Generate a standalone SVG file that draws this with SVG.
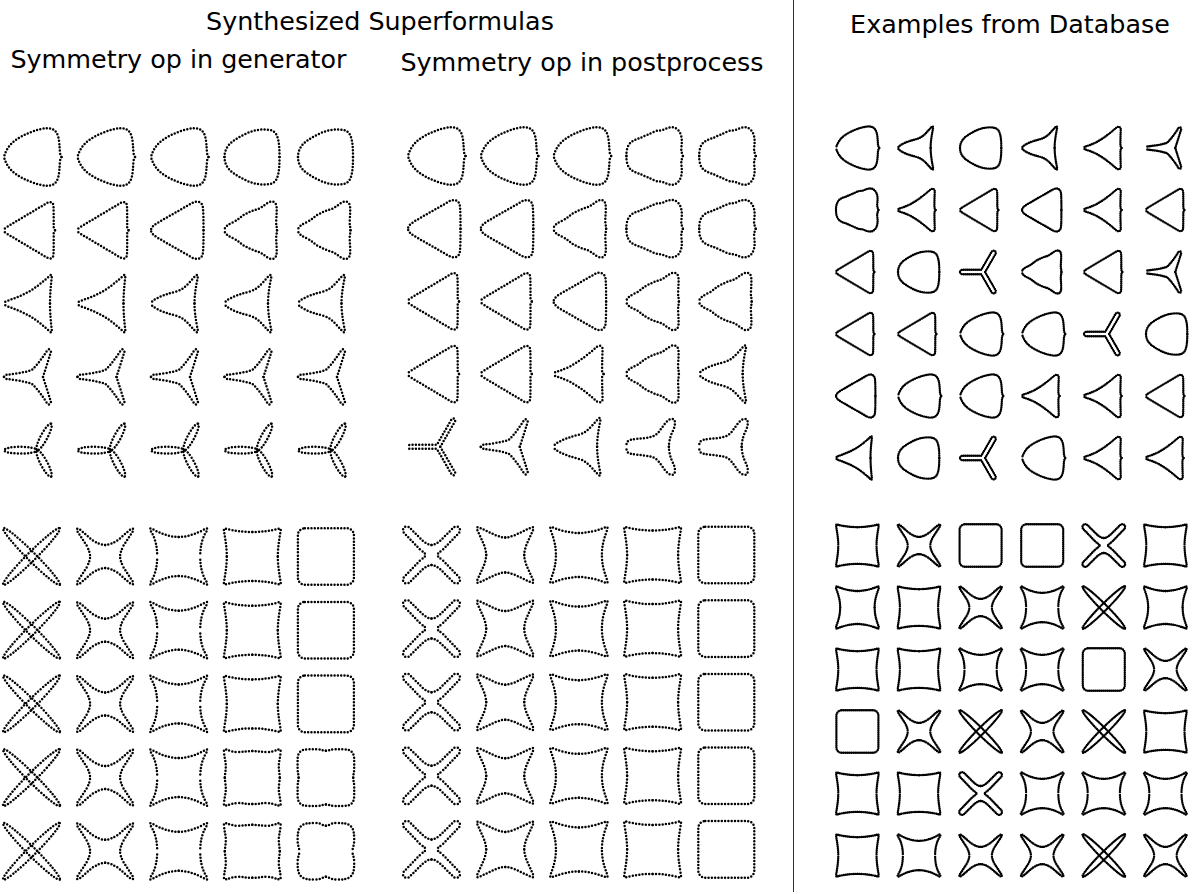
<svg xmlns="http://www.w3.org/2000/svg" width="1192" height="894" viewBox="0 0 1192 894">
<style>
text { font-family: "DejaVu Sans", "Liberation Sans", sans-serif; font-size: 25.4px; fill: #000; }
.dots { fill: none; stroke: #000; stroke-width: 2.5; stroke-dasharray: 0 3.3; stroke-linecap: round; stroke-linejoin: round; }
.dense { fill: none; stroke: #000; stroke-width: 3.2; stroke-dasharray: 0 2.6; stroke-linecap: round; stroke-linejoin: round; }
</style>
<defs>
<!-- three-fold half outlines (upper half, mirrored) -->
<path id="t0" d="M 26.5,0 C 26.5,-10 26,-18 23,-23 C 20,-27.5 14,-28 7,-27.3 C -3,-26.3 -13,-21 -21,-15 C -26,-11 -28.5,-6 -28.5,0"/>
<path id="t1" d="M 29,0 L 27.5,-3.5 C 27,-10 27,-16 25.5,-21 C 23.5,-27 19.5,-29 14.5,-28.8 C 4.5,-28 -8.5,-23 -17.5,-16.5 C -23.5,-12 -27,-6 -28.5,0"/>
<path id="t1w" d="M 28,0 C 27,-3 26,-5 26.5,-9 C 27.5,-16 27,-23 22,-27 C 18,-30 13,-28.5 9,-26.5 C 6,-25 3,-26 0,-24.5 C -6,-22 -11,-19.5 -15,-18 C -19,-16.5 -23,-15.5 -25.5,-12 C -28.5,-8 -28.5,-3 -28.5,0"/>
<path id="t2" d="M 22.5,0 L 21.2,-3 C 21.2,-10 21.2,-18 21,-24 C 20.8,-28.5 17.5,-29 14.5,-27.3 L -25.5,-3.5 C -28,-2 -28.5,-1 -28.5,0"/>
<path id="t2r" d="M 24,0 C 24,-8 24,-16 23.5,-22 C 23,-28.5 18,-30 13,-27.5 L -21,-8 C -27,-4.5 -28.5,-2 -28.5,0"/>
<path id="t2w" d="M 24,0 C 24,-3 23,-5 23.2,-9 C 23.5,-15 24,-21 23.5,-24 C 23,-28.5 19,-30 15,-27.5 C 11,-25 8,-22 4,-21 C 0,-20 -4,-18 -8,-16 C -12,-14 -14,-11 -19,-8.5 C -24,-6 -28.5,-4 -28.5,0"/>
<path id="t3" d="M 21.5,0 L 20,-3 C 20,-12 20.3,-20 20.5,-24.5 C 20.5,-28.5 17.5,-29 15,-27.5 C 6.5,-20 -3.5,-12 -13.5,-7 C -19.5,-4 -24.5,-3 -27,-1.8 C -28.5,-1 -28.5,-0.5 -28.5,0"/>
<path id="t4a" d="M 17.5,0 C 17.5,-10 18.5,-20 19.3,-26.5 C 19.6,-29 18.5,-29.3 17.3,-28 C 13,-24 6,-18 -1,-13.5 C -9,-8.5 -19,-5 -25,-2.8 C -27.5,-1.8 -28.5,-1 -28.5,0"/>
<path id="t4b" d="M 15,0 C 15,-10 17,-20 18.3,-26.5 C 18.6,-29 17.5,-29.3 16.3,-28 C 11,-23 6,-15 -2,-12.5 C -11,-10 -18,-8 -24,-4.5 C -27,-2.8 -28.5,-1.2 -28.5,0"/>
<path id="t5" d="M 10.5,0 C 13,-8 16,-17 18.3,-24.8 A 2 2 0 0 0 14.8,-26.7 C 10,-19 4,-11 -0.5,-7 C -9,-4 -19,-3 -26.5,-2 A 2 2 0 0 0 -28.5,0"/>
<path id="t5t" d="M 3.8,0 L 18.5,-25.4 A 2 2 0 0 0 15,-27.4 L 0.35,-2 L -26.5,-2 A 2 2 0 0 0 -28.5,0"/>
<path id="t5r" d="M 4.96,0 L 18.85,-24.05 A 3 3 0 0 0 13.65,-27.05 L -0.23,-3 L -25.5,-3 A 3 3 0 0 0 -28.5,0"/>
<path id="t7" d="M 14,0 C 14,-4 15,-10 18,-16 C 21,-22 21,-28.5 16.5,-28 C 12,-27.5 8,-20 4,-15 C 0,-10 -4,-10 -8,-9 C -14,-8 -20,-8 -24,-7 C -28.5,-6 -28.5,-3 -28.5,0"/>
<g id="T0"><use href="#t0"/><use href="#t0" transform="scale(1,-1)"/></g>
<g id="T1"><use href="#t1"/><use href="#t1" transform="scale(1,-1)"/></g>
<g id="T1w"><use href="#t1w"/><use href="#t1w" transform="scale(1,-1)"/></g>
<g id="T2"><use href="#t2"/><use href="#t2" transform="scale(1,-1)"/></g>
<g id="T2r"><use href="#t2r"/><use href="#t2r" transform="scale(1,-1)"/></g>
<g id="T2w"><use href="#t2w"/><use href="#t2w" transform="scale(1,-1)"/></g>
<g id="T3"><use href="#t3"/><use href="#t3" transform="scale(1,-1)"/></g>
<g id="T4a"><use href="#t4a"/><use href="#t4a" transform="scale(1,-1)"/></g>
<g id="T4b"><use href="#t4b"/><use href="#t4b" transform="scale(1,-1)"/></g>
<g id="T5"><use href="#t5"/><use href="#t5" transform="scale(1,-1)"/></g>
<g id="T5t"><use href="#t5t"/><use href="#t5t" transform="scale(1,-1)"/></g>
<g id="T5r"><use href="#t5r"/><use href="#t5r" transform="scale(1,-1)"/></g>
<g id="T7"><use href="#t7"/><use href="#t7" transform="scale(1,-1)"/></g>
<g id="T6">
<ellipse cx="-12" cy="0" rx="16.5" ry="3.4"/>
<ellipse cx="15" cy="0" rx="15" ry="3.4" transform="translate(4.5,0) rotate(-62)"/>
<ellipse cx="15" cy="0" rx="15" ry="3.4" transform="translate(4.5,0) rotate(62)"/>
</g>
<!-- four-fold quarter outlines (upper-left, mirrored) -->
<path id="s1b" d="M 0,-10 C -3,-10 -6,-12 -9,-14.5 L -22,-27.4 A 3.8 3.8 0 0 0 -27.4,-22 L -12,-6 C -8,-2.5 -5.5,-1 -5.5,0"/>
<path id="s2" d="M 0,-11.5 C -4,-11.5 -8,-13.5 -13,-16.5 L -24.5,-26.5 C -27,-28.5 -29,-28.5 -28,-25.5 L -18.5,-11 C -16,-6 -15,-3 -15,0"/>
<path id="s2m" d="M 0,-17.5 C -3,-17.5 -6,-18.5 -10,-20 L -24.5,-26.8 C -27,-28 -28.8,-28.5 -28.3,-26 L -21.5,-11 C -20,-7 -19,-3 -19,0"/>
<path id="s3" d="M 0,-19.5 C -9,-19.5 -18,-23 -24.5,-26.5 C -27,-28 -28.6,-28.8 -28.6,-27.5 C -28.6,-26.5 -27.5,-24.5 -26,-22 C -23,-16 -21.5,-9 -21.5,0"/>
<path id="s3b" d="M 0,-22 C -9,-22 -18,-24.5 -24.8,-27 C -27.3,-28 -28.6,-28.6 -28.6,-27 C -28.6,-25.5 -27.5,-23 -26.5,-20 C -24.5,-14 -23,-8 -23,0"/>
<path id="s4" d="M 0,-24.5 C -10,-24.5 -20,-26 -25.5,-27.6 C -27.6,-28.3 -28.5,-28.3 -28.4,-26.2 C -27.5,-20 -25.5,-10 -25.5,0"/>
<path id="s4w" d="M 0,-26.5 C -6,-26.5 -9,-25.5 -14,-25.5 C -20,-25.5 -24,-27.5 -26,-28 C -28,-28.5 -28.5,-28 -28.3,-26 C -28,-20 -26.5,-16 -26.5,-12 C -26.5,-6 -27.5,-3 -27.5,0"/>
<path id="s6a" d="M 0,-26.8 C -3,-26.8 -5,-28.3 -9,-28.3 L -18,-28.3 C -25,-28.3 -28.3,-25 -28.3,-18 L -28.3,-9 C -28.3,-5 -27.3,-3 -27.3,0"/>
<path id="s6b" d="M 0,-25.5 C -3,-25.5 -5,-28.3 -10,-28.3 C -17,-28.3 -22,-28 -25,-25 C -28,-22 -28.3,-17 -28.3,-11 C -28.3,-6 -26.5,-3 -26.5,0"/>
<g id="S1"><ellipse rx="40" ry="4.3" transform="rotate(45)"/><ellipse rx="40" ry="4.3" transform="rotate(-45)"/></g>
<g id="S1b"><use href="#s1b"/><use href="#s1b" transform="scale(-1,1)"/><use href="#s1b" transform="scale(1,-1)"/><use href="#s1b" transform="scale(-1,-1)"/></g>
<g id="S2"><use href="#s2"/><use href="#s2" transform="scale(-1,1)"/><use href="#s2" transform="scale(1,-1)"/><use href="#s2" transform="scale(-1,-1)"/></g>
<g id="S2m"><use href="#s2m"/><use href="#s2m" transform="scale(-1,1)"/><use href="#s2m" transform="scale(1,-1)"/><use href="#s2m" transform="scale(-1,-1)"/></g>
<g id="S3"><use href="#s3"/><use href="#s3" transform="scale(-1,1)"/><use href="#s3" transform="scale(1,-1)"/><use href="#s3" transform="scale(-1,-1)"/></g>
<g id="S3b"><use href="#s3b"/><use href="#s3b" transform="scale(-1,1)"/><use href="#s3b" transform="scale(1,-1)"/><use href="#s3b" transform="scale(-1,-1)"/></g>
<g id="S4"><use href="#s4"/><use href="#s4" transform="scale(-1,1)"/><use href="#s4" transform="scale(1,-1)"/><use href="#s4" transform="scale(-1,-1)"/></g>
<g id="S4w"><use href="#s4w"/><use href="#s4w" transform="scale(-1,1)"/><use href="#s4w" transform="scale(1,-1)"/><use href="#s4w" transform="scale(-1,-1)"/></g>
<g id="S5"><rect x="-28" y="-28.3" width="56" height="56.6" rx="7"/></g>
<g id="S6a"><use href="#s6a"/><use href="#s6a" transform="scale(-1,1)"/><use href="#s6a" transform="scale(1,-1)"/><use href="#s6a" transform="scale(-1,-1)"/></g>
<g id="S6b"><use href="#s6b"/><use href="#s6b" transform="scale(-1,1)"/><use href="#s6b" transform="scale(1,-1)"/><use href="#s6b" transform="scale(-1,-1)"/></g>
</defs>

<g id="headers">
<text x="380" y="30" text-anchor="middle">Synthesized Superformulas</text>
<text x="178.5" y="68" text-anchor="middle">Symmetry op in generator</text>
<text x="582" y="71" text-anchor="middle">Symmetry op in postprocess</text>
<text x="1010" y="33" text-anchor="middle">Examples from Database</text>
</g>
<line id="divider" x1="793.5" y1="0" x2="793.5" y2="892" stroke="#333" stroke-width="1"/>

<g id="generator-triangles" class="dots">
<use href="#T1" x="32.5" y="157"/><use href="#T1" x="106" y="157"/><use href="#T1" x="179.5" y="157"/><use href="#T0" x="253" y="157"/><use href="#T0" x="326.5" y="157"/>
<use href="#T2" x="32.5" y="230.3"/><use href="#T2" x="106" y="230.3"/><use href="#T2r" x="179.5" y="230.3"/><use href="#T2w" x="253" y="230.3"/><use href="#T2w" x="326.5" y="230.3"/>
<use href="#T4a" x="32.5" y="303.6"/><use href="#T4a" x="106" y="303.6"/><use href="#T4b" x="179.5" y="303.6"/><use href="#T4b" x="253" y="303.6"/><use href="#T4b" x="326.5" y="303.6"/>
<use href="#T5" x="32.5" y="376.9"/><use href="#T5" x="106" y="376.9"/><use href="#T5" x="179.5" y="376.9"/><use href="#T5" x="253" y="376.9"/><use href="#T5" x="326.5" y="376.9"/>
<use href="#T6" x="32.5" y="450.2"/><use href="#T6" x="106" y="450.2"/><use href="#T6" x="179.5" y="450.2"/><use href="#T6" x="253" y="450.2"/><use href="#T6" x="326.5" y="450.2"/>
</g>
<g id="generator-squares" class="dots">
<use href="#S1" x="31.5" y="556.5"/><use href="#S2" x="105.1" y="556.5"/><use href="#S3" x="178.7" y="556.5"/><use href="#S4" x="252.3" y="556.5"/><use href="#S5" x="325.9" y="556.5"/>
<use href="#S1" x="31.5" y="630.2"/><use href="#S2" x="105.1" y="630.2"/><use href="#S3" x="178.7" y="630.2"/><use href="#S4" x="252.3" y="630.2"/><use href="#S5" x="325.9" y="630.2"/>
<use href="#S1" x="31.5" y="703.9"/><use href="#S2" x="105.1" y="703.9"/><use href="#S3" x="178.7" y="703.9"/><use href="#S4" x="252.3" y="703.9"/><use href="#S5" x="325.9" y="703.9"/>
<use href="#S1" x="31.5" y="777.6"/><use href="#S2" x="105.1" y="777.6"/><use href="#S3" x="178.7" y="777.6"/><use href="#S4w" x="252.3" y="777.6"/><use href="#S6a" x="325.9" y="777.6"/>
<use href="#S1" x="31.5" y="851.3"/><use href="#S2" x="105.1" y="851.3"/><use href="#S3" x="178.7" y="851.3"/><use href="#S4w" x="252.3" y="851.3"/><use href="#S6b" x="325.9" y="851.3"/>
</g>

<g id="postprocess-triangles" class="dots">
<use href="#T1" x="436.5" y="156"/><use href="#T1" x="509.3" y="156"/><use href="#T1" x="582.1" y="156"/><use href="#T1w" x="654.9" y="156"/><use href="#T1w" x="727.7" y="156"/>
<use href="#T2r" x="436.5" y="228.7"/><use href="#T2r" x="509.3" y="228.7"/><use href="#T2w" x="582.1" y="228.7"/><use href="#T1w" x="654.9" y="228.7"/><use href="#T1w" x="727.7" y="228.7"/>
<use href="#T2" x="436.5" y="301.4"/><use href="#T2" x="509.3" y="301.4"/><use href="#T2r" x="582.1" y="301.4"/><use href="#T2w" x="654.9" y="301.4"/><use href="#T2w" x="727.7" y="301.4"/>
<use href="#T2" x="436.5" y="374.1"/><use href="#T2" x="509.3" y="374.1"/><use href="#T3" x="582.1" y="374.1"/><use href="#T2w" x="654.9" y="374.1"/><use href="#T4b" x="727.7" y="374.1"/>
<use href="#T5t" x="436.5" y="446.8"/><use href="#T5" x="509.3" y="446.8"/><use href="#T4b" x="582.1" y="446.8"/><use href="#T7" x="654.9" y="446.8"/><use href="#T7" x="727.7" y="446.8"/>
</g>
<g id="postprocess-squares" class="dots">
<use href="#S1b" x="431.5" y="555"/><use href="#S2m" x="505.2" y="555"/><use href="#S3b" x="578.9" y="555"/><use href="#S4" x="652.6" y="555"/><use href="#S5" x="726.3" y="555"/>
<use href="#S1b" x="431.5" y="628.6"/><use href="#S2m" x="505.2" y="628.6"/><use href="#S3b" x="578.9" y="628.6"/><use href="#S4" x="652.6" y="628.6"/><use href="#S5" x="726.3" y="628.6"/>
<use href="#S1b" x="431.5" y="702.2"/><use href="#S2m" x="505.2" y="702.2"/><use href="#S3b" x="578.9" y="702.2"/><use href="#S4" x="652.6" y="702.2"/><use href="#S5" x="726.3" y="702.2"/>
<use href="#S1b" x="431.5" y="775.8"/><use href="#S2m" x="505.2" y="775.8"/><use href="#S3b" x="578.9" y="775.8"/><use href="#S4" x="652.6" y="775.8"/><use href="#S5" x="726.3" y="775.8"/>
<use href="#S1b" x="431.5" y="849.4"/><use href="#S2m" x="505.2" y="849.4"/><use href="#S3b" x="578.9" y="849.4"/><use href="#S4" x="652.6" y="849.4"/><use href="#S5" x="726.3" y="849.4"/>
</g>

<g id="database-triangles" class="dense">
<use href="#T1" transform="translate(857.4,148) scale(0.75)"/><use href="#T4b" transform="translate(919.4,148) scale(0.75)"/><use href="#T0" transform="translate(981.4,148) scale(0.75)"/><use href="#T4b" transform="translate(1043.4,148) scale(0.75)"/><use href="#T3" transform="translate(1105.4,148) scale(0.75)"/><use href="#T5" transform="translate(1167.4,148) scale(0.75)"/>
<use href="#T1w" transform="translate(857.4,210) scale(0.75)"/><use href="#T3" transform="translate(919.4,210) scale(0.75)"/><use href="#T2" transform="translate(981.4,210) scale(0.75)"/><use href="#T2r" transform="translate(1043.4,210) scale(0.75)"/><use href="#T3" transform="translate(1105.4,210) scale(0.75)"/><use href="#T2" transform="translate(1167.4,210) scale(0.75)"/>
<use href="#T2" transform="translate(857.4,272) scale(0.75)"/><use href="#T0" transform="translate(919.4,272) scale(0.75)"/><use href="#T5r" transform="translate(981.4,272) scale(0.75)"/><use href="#T2w" transform="translate(1043.4,272) scale(0.75)"/><use href="#T2" transform="translate(1105.4,272) scale(0.75)"/><use href="#T5" transform="translate(1167.4,272) scale(0.75)"/>
<use href="#T2" transform="translate(857.4,334) scale(0.75)"/><use href="#T2" transform="translate(919.4,334) scale(0.75)"/><use href="#T1" transform="translate(981.4,334) scale(0.75)"/><use href="#T1" transform="translate(1043.4,334) scale(0.75)"/><use href="#T5r" transform="translate(1105.4,334) scale(0.75)"/><use href="#T0" transform="translate(1167.4,334) scale(0.75)"/>
<use href="#T2r" transform="translate(857.4,396) scale(0.75)"/><use href="#T1" transform="translate(919.4,396) scale(0.75)"/><use href="#T1" transform="translate(981.4,396) scale(0.75)"/><use href="#T3" transform="translate(1043.4,396) scale(0.75)"/><use href="#T3" transform="translate(1105.4,396) scale(0.75)"/><use href="#T2" transform="translate(1167.4,396) scale(0.75)"/>
<use href="#T4a" transform="translate(857.4,458) scale(0.75)"/><use href="#T0" transform="translate(919.4,458) scale(0.75)"/><use href="#T5r" transform="translate(981.4,458) scale(0.75)"/><use href="#T1" transform="translate(1043.4,458) scale(0.75)"/><use href="#T3" transform="translate(1105.4,458) scale(0.75)"/><use href="#T3" transform="translate(1167.4,458) scale(0.75)"/>
</g>
<g id="database-squares" class="dense">
<use href="#S4" transform="translate(857.4,545.5) scale(0.75)"/><use href="#S2" transform="translate(919,545.5) scale(0.75)"/><use href="#S5" transform="translate(980.6,545.5) scale(0.75)"/><use href="#S5" transform="translate(1042.2,545.5) scale(0.75)"/><use href="#S1b" transform="translate(1103.8,545.5) scale(0.75)"/><use href="#S4" transform="translate(1165.4,545.5) scale(0.75)"/>
<use href="#S3b" transform="translate(857.4,607.5) scale(0.75)"/><use href="#S4" transform="translate(919,607.5) scale(0.75)"/><use href="#S2" transform="translate(980.6,607.5) scale(0.75)"/><use href="#S3" transform="translate(1042.2,607.5) scale(0.75)"/><use href="#S1" transform="translate(1103.8,607.5) scale(0.75)"/><use href="#S3b" transform="translate(1165.4,607.5) scale(0.75)"/>
<use href="#S4" transform="translate(857.4,669.5) scale(0.75)"/><use href="#S4" transform="translate(919,669.5) scale(0.75)"/><use href="#S3" transform="translate(980.6,669.5) scale(0.75)"/><use href="#S3" transform="translate(1042.2,669.5) scale(0.75)"/><use href="#S5" transform="translate(1103.8,669.5) scale(0.75)"/><use href="#S2" transform="translate(1165.4,669.5) scale(0.75)"/>
<use href="#S5" transform="translate(857.4,731.5) scale(0.75)"/><use href="#S2" transform="translate(919,731.5) scale(0.75)"/><use href="#S1" transform="translate(980.6,731.5) scale(0.75)"/><use href="#S2" transform="translate(1042.2,731.5) scale(0.75)"/><use href="#S1" transform="translate(1103.8,731.5) scale(0.75)"/><use href="#S4" transform="translate(1165.4,731.5) scale(0.75)"/>
<use href="#S4" transform="translate(857.4,793.5) scale(0.75)"/><use href="#S4" transform="translate(919,793.5) scale(0.75)"/><use href="#S1b" transform="translate(980.6,793.5) scale(0.75)"/><use href="#S3" transform="translate(1042.2,793.5) scale(0.75)"/><use href="#S3" transform="translate(1103.8,793.5) scale(0.75)"/><use href="#S3" transform="translate(1165.4,793.5) scale(0.75)"/>
<use href="#S4" transform="translate(857.4,855.5) scale(0.75)"/><use href="#S3" transform="translate(919,855.5) scale(0.75)"/><use href="#S2" transform="translate(980.6,855.5) scale(0.75)"/><use href="#S2" transform="translate(1042.2,855.5) scale(0.75)"/><use href="#S1" transform="translate(1103.8,855.5) scale(0.75)"/><use href="#S2" transform="translate(1165.4,855.5) scale(0.75)"/>
</g>
</svg>
